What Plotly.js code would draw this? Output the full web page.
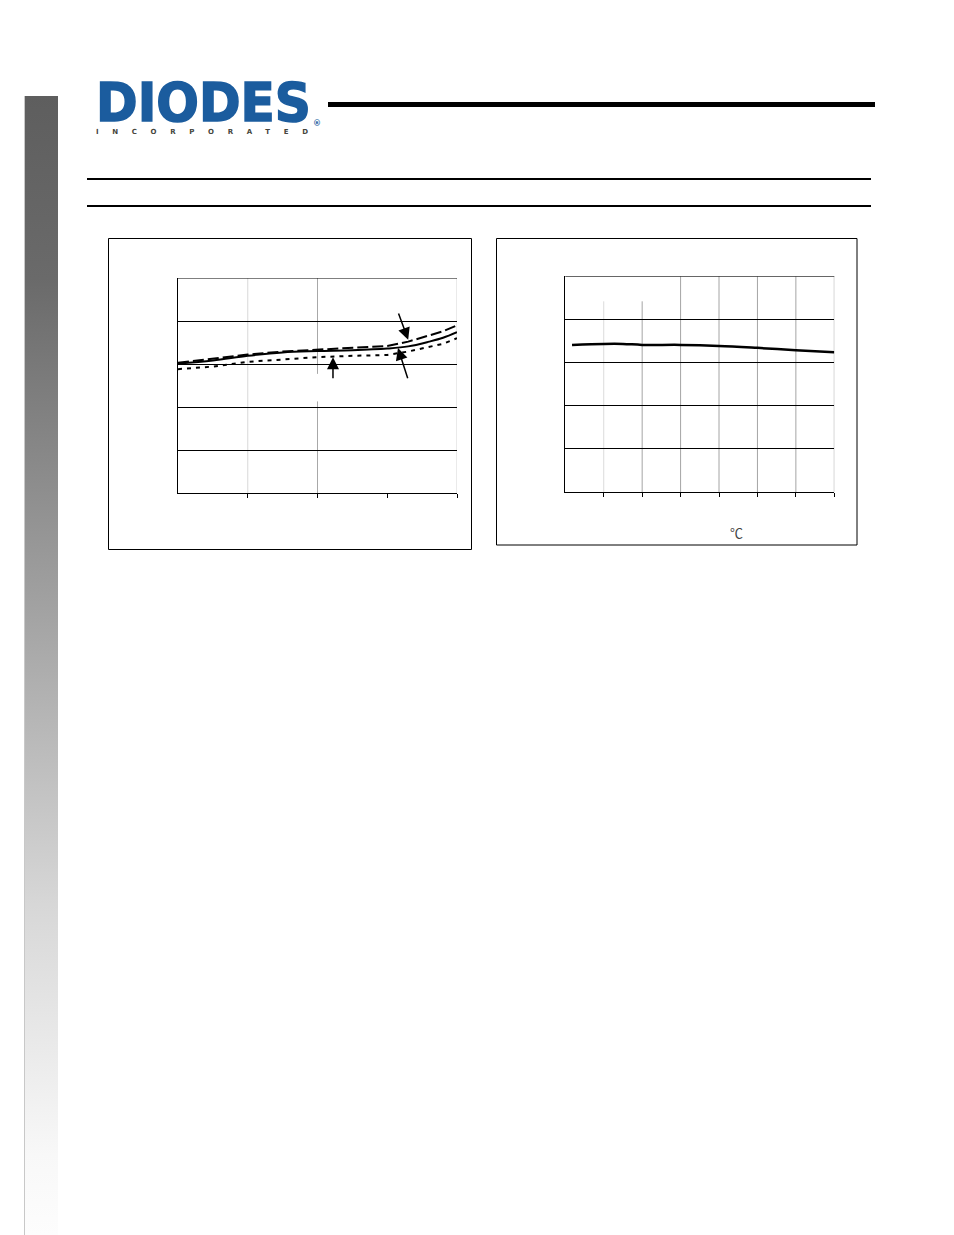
<!DOCTYPE html>
<html>
<head>
<meta charset="utf-8">
<script src="https://cdn.plot.ly/plotly-3.0.1.min.js"></script>
<style>
  html, body { margin: 0; padding: 0; background: #ffffff; }
  #page { position: relative; width: 954px; height: 1235px; overflow: hidden; background: #ffffff; }
  #sidebar { position: absolute; left: 24px; top: 96px; width: 34px; height: 1139px;
    background: linear-gradient(to bottom, #5e5e5e 0%, #6a6a6a 16%, #a0a0a0 44%, #d7d7d7 71%, #f8f8f8 93%, #fdfdfd 100%);
    border-left: 1px solid #c8c8c8; box-sizing: border-box; }
  #deco { position: absolute; left: 0; top: 0; }
  #chart { position: absolute; left: 0; top: 0; width: 954px; height: 1235px; }
</style>
</head>
<body>
<div id="page">
  <div id="sidebar"></div>
  <svg id="deco" width="954" height="1235" xmlns="http://www.w3.org/2000/svg">
    <text x="96" y="121" textLength="215" lengthAdjust="spacingAndGlyphs"
      font-family="DejaVu Sans" font-weight="bold" font-size="53" fill="#1b5c9e"
      stroke="#1b5c9e" stroke-width="1.6">DIODES</text>
    <text x="313" y="126" font-family="DejaVu Sans" font-weight="bold" font-size="8" fill="#1b5c9e">®</text>
    <text x="96" y="134" textLength="212" lengthAdjust="spacing"
      font-family="DejaVu Sans" font-weight="bold" font-size="7" fill="#45453c">INCORPORATED</text>
    <rect x="328" y="102" width="547" height="5" fill="#000"/>
    <rect x="87" y="178" width="784" height="2" fill="#000"/>
    <rect x="87" y="205" width="784" height="2" fill="#000"/>
  </svg>
  <div id="chart"></div>
</div>
<script>
// ---- Left chart data (three curves) ----
const leftX = [0, 0.5, 1, 1.5, 2, 2.5, 3, 3.3, 3.6, 3.8, 4];
const leftSolid  = [3.01, 3.08, 3.19, 3.27, 3.30, 3.32, 3.36, 3.41, 3.52, 3.61, 3.74];
const leftDashed = [3.03, 3.12, 3.22, 3.29, 3.33, 3.37, 3.42, 3.52, 3.66, 3.76, 3.90];
const leftDotted = [2.88, 2.94, 3.05, 3.11, 3.16, 3.19, 3.21, 3.29, 3.40, 3.47, 3.60];
const leftXTicks = [1, 2, 3, 4];
const leftYTicks = [1, 2, 3, 4];

// ---- Right chart data (temperature curve) ----
const rightTemp  = [-36.5, -20, -10, 0, 20, 40, 60, 80, 100];
const rightValue = [3.41, 3.433, 3.433, 3.41, 3.41, 3.387, 3.341, 3.287, 3.24];
const rightXTicks = [-20, 0, 20, 40, 60, 80, 100];
const rightYTicks = [1, 2, 3, 4];
const rightUnit = '℃';

const W = 954, H = 1235;
const px = v => v / W;
const py = v => 1 - v / H;

const traces = [
  { x: leftX, y: leftDashed, xaxis: 'x', yaxis: 'y', mode: 'lines',
    line: { color: '#000', width: 2, dash: '11px,4px' }, hoverinfo: 'skip' },
  { x: leftX, y: leftDotted, xaxis: 'x', yaxis: 'y', mode: 'lines',
    line: { color: '#000', width: 2, dash: '4px,5px' }, hoverinfo: 'skip' },
  { x: leftX, y: leftSolid, xaxis: 'x', yaxis: 'y', mode: 'lines',
    line: { color: '#000', width: 2, shape: 'spline' }, hoverinfo: 'skip' },
  { x: rightTemp, y: rightValue, xaxis: 'x2', yaxis: 'y2', mode: 'lines',
    line: { color: '#000', width: 2.5, shape: 'spline' }, hoverinfo: 'skip' }
];

const axBase = {
  showticklabels: false, zeroline: false, showline: true, linecolor: '#000', linewidth: 1,
  fixedrange: true
};

const shapes = [
  // chart frames
  { type: 'rect', xref: 'paper', yref: 'paper', x0: px(108.5), x1: px(471.5), y0: py(549.5), y1: py(238.5),
    line: { color: '#000', width: 1 } },
  { type: 'rect', xref: 'paper', yref: 'paper', x0: px(496.5), x1: px(857), y0: py(545), y1: py(238.5),
    line: { color: '#000', width: 1 } },
  // left chart: top edge, right edge, vertical grid
  { type: 'line', xref: 'x domain', yref: 'y', x0: 0, x1: 1, y0: 5, y1: 5, line: { color: '#000', width: 1 } },
  { type: 'line', xref: 'x', yref: 'y', x0: 4, x1: 4, y0: 0, y1: 5, layer: 'below', line: { color: '#d4d4d4', width: 1 } },
  { type: 'line', xref: 'x', yref: 'y', x0: 1, x1: 1, y0: 0, y1: 5, layer: 'below', line: { color: '#d8d8d8', width: 1 } },
  { type: 'line', xref: 'x', yref: 'y', x0: 2, x1: 2, y0: 2.77, y1: 5, layer: 'below', line: { color: '#a8a8a8', width: 1 } },
  { type: 'line', xref: 'x', yref: 'y', x0: 2, x1: 2, y0: 0, y1: 2.13, layer: 'below', line: { color: '#a8a8a8', width: 1 } },
  // right chart: top edge, vertical grid
  { type: 'line', xref: 'x2 domain', yref: 'y2', x0: 0, x1: 1, y0: 5, y1: 5, line: { color: '#000', width: 1 } }
];
rightXTicks.forEach((t, i) => {
  const col = i === 0 ? '#dcdcdc' : '#a4a4a4';
  const top = i < 2 ? 4.42 : 5;
  shapes.push({ type: 'line', xref: 'x2', yref: 'y2', x0: t, x1: t, y0: 0, y1: top, layer: 'below',
    line: { color: col, width: 1 } });
});

const arrowStyle = { showarrow: true, arrowhead: 2, arrowsize: 1.6, arrowwidth: 1.5, arrowcolor: '#000',
  text: '', axref: 'x', ayref: 'y', xref: 'x', yref: 'y', standoff: 0, startstandoff: 0 };

const annotations = [
  Object.assign({}, arrowStyle, { x: 3.30, y: 3.565, ax: 3.154, ay: 4.21 }),
  Object.assign({}, arrowStyle, { x: 3.154, y: 3.372, ax: 3.30, ay: 2.635 }),
  Object.assign({}, arrowStyle, { x: 2.222, y: 3.156, ax: 2.222, ay: 2.635 }),
  { xref: 'paper', yref: 'paper', x: px(736), y: py(532), text: rightUnit, showarrow: false,
    xanchor: 'center', yanchor: 'middle', font: { family: 'Noto Sans CJK JP', size: 13, color: '#444' } }
];

const layout = {
  width: W, height: H,
  margin: { l: 0, r: 0, t: 0, b: 0 },
  paper_bgcolor: 'rgba(0,0,0,0)', plot_bgcolor: 'rgba(0,0,0,0)',
  showlegend: false,
  xaxis: Object.assign({}, axBase, { domain: [px(178), px(457)], range: [0, 4], anchor: 'y',
    showgrid: false, tickmode: 'array', tickvals: leftXTicks, ticks: 'outside', ticklen: 4, tickcolor: '#000' }),
  yaxis: Object.assign({}, axBase, { domain: [py(493), py(278)], range: [0, 5], anchor: 'x',
    showgrid: true, gridcolor: '#000', gridwidth: 1, tickmode: 'array', tickvals: leftYTicks, ticks: '' }),
  xaxis2: Object.assign({}, axBase, { domain: [px(565.3), px(834.3)], range: [-40, 100], anchor: 'y2',
    showgrid: false, tickmode: 'array', tickvals: rightXTicks, ticks: 'outside', ticklen: 4, tickcolor: '#000' }),
  yaxis2: Object.assign({}, axBase, { domain: [py(492), py(276.3)], range: [0, 5], anchor: 'x2',
    showgrid: true, gridcolor: '#000', gridwidth: 1, tickmode: 'array', tickvals: rightYTicks, ticks: '' }),
  shapes: shapes,
  annotations: annotations
};

Plotly.newPlot('chart', traces, layout, { staticPlot: true, displayModeBar: false });
</script>
</body>
</html>
